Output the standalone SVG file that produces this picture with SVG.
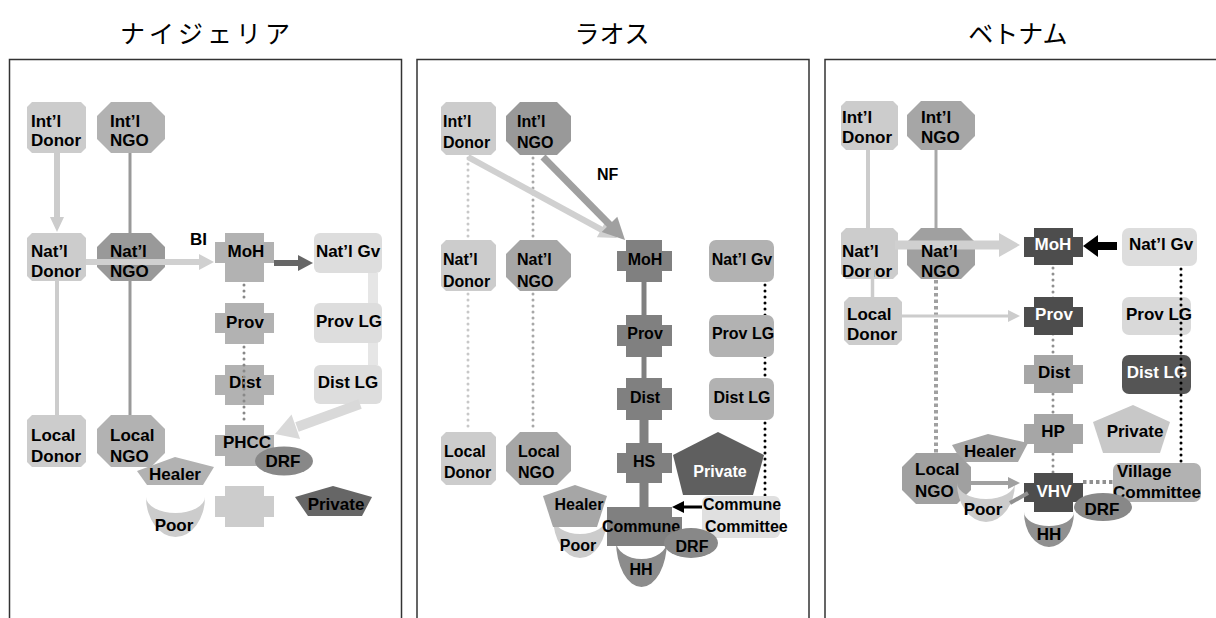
<svg xmlns="http://www.w3.org/2000/svg" width="1216" height="618" viewBox="0 0 1216 618">
<style>
text { font-family: "Liberation Sans", Arial, sans-serif; font-weight: bold; font-size: 17px; fill: #000; }
.p2 text { font-size: 16px; }
.c { text-anchor: middle; }
.w { fill: #fff; }
.title { font-family: "Noto Sans CJK JP", "Noto Sans CJK SC", sans-serif; font-weight: normal; font-size: 25px; text-anchor: middle; }
.frame { fill: #fff; stroke: #333; stroke-width: 1.5; }
.dot { fill: none; stroke-linecap: round; stroke-dasharray: 0 6; stroke-width: 3; }
.sq { fill: none; stroke-dasharray: 3.5 3; stroke-width: 4; }
.ln { fill: none; }
</style>
<rect width="1216" height="618" fill="#fff"/>
<g id="frames">
  <rect class="frame" x="9.5" y="59.5" width="392" height="600"/>
  <rect class="frame" x="417" y="59.5" width="392" height="600"/>
  <rect class="frame" x="825" y="59.5" width="420" height="600"/>
</g>
<g id="titles">
  <text class="title" x="207" y="43" style="letter-spacing:4px">ナイジェリア</text>
  <text class="title" x="612" y="43">ラオス</text>
  <text class="title" x="1018" y="43">ベトナム</text>
</g>

<g id="connectors-back">
  <!-- Nigeria -->
  <line class="ln" x1="57" y1="153" x2="57" y2="219" stroke="#cccccc" stroke-width="6"/>
  <polygon points="50,217 64,217 57,232" fill="#cccccc"/>
  <line class="ln" x1="130" y1="153" x2="130" y2="233" stroke="#999" stroke-width="3"/>
  <line class="ln" x1="57" y1="281" x2="57" y2="415" stroke="#cccccc" stroke-width="4"/>
  <line class="ln" x1="130" y1="281" x2="130" y2="415" stroke="#999" stroke-width="3"/>
  <line class="ln" x1="373" y1="273" x2="373" y2="365" stroke="#e6e6e6" stroke-width="10"/>
  <line class="dot" x1="244" y1="285" x2="244" y2="303" stroke="#888"/>
  <line class="ln" x1="274" y1="263" x2="299" y2="263" stroke="#666" stroke-width="6"/>
  <polygon points="298,255 298,271 313,263" fill="#666"/>
  <!-- Laos -->
  <line class="dot" x1="468" y1="158" x2="468" y2="240" stroke="#c8c8c8"/>
  <line class="dot" x1="468" y1="294" x2="468" y2="432" stroke="#c8c8c8"/>
  <line class="dot" x1="533" y1="158" x2="533" y2="240" stroke="#a8a8a8"/>
  <line class="dot" x1="533" y1="294" x2="533" y2="432" stroke="#a8a8a8"/>
  <line class="ln" x1="644" y1="282" x2="644" y2="315" stroke="#808080" stroke-width="5"/>
  <line class="ln" x1="644" y1="357" x2="644" y2="378" stroke="#808080" stroke-width="5"/>
  <line class="ln" x1="644" y1="420" x2="644" y2="443" stroke="#808080" stroke-width="9"/>
  <line class="ln" x1="644" y1="483" x2="644" y2="507" stroke="#808080" stroke-width="9"/>
  <line class="dot" x1="765" y1="285" x2="765" y2="496" stroke="#000"/>
  <line class="ln" x1="468" y1="157" x2="602" y2="230" stroke="#d0d0d0" stroke-width="6"/>
  <polygon points="617,238 596.9,237.3 605.5,221.5" fill="#d0d0d0"/>
  <line class="ln" x1="543" y1="157" x2="611" y2="226" stroke="#a0a0a0" stroke-width="7"/>
  <polygon points="625,240 601.7,232.1 617.3,216.7" fill="#a0a0a0"/>
  <line class="ln" x1="702" y1="507" x2="683" y2="507" stroke="#000" stroke-width="3"/>
  <polygon points="684,501 684,513 672,507" fill="#000"/>
  <!-- Vietnam -->
  <line class="ln" x1="868" y1="150" x2="868" y2="228" stroke="#cccccc" stroke-width="4"/>
  <line class="ln" x1="936" y1="150" x2="936" y2="228" stroke="#a8a8a8" stroke-width="3"/>
  <line class="sq" x1="936" y1="280" x2="936" y2="453" stroke="#a0a0a0"/>
  <line class="dot" x1="1053" y1="268" x2="1053" y2="473" stroke="#909090"/>
  <line class="sq" x1="1083" y1="482" x2="1113" y2="482" stroke="#909090"/>
  <line class="ln" x1="902" y1="316" x2="1009" y2="316" stroke="#cccccc" stroke-width="3"/>
  <polygon points="1008,310 1008,322 1020,316" fill="#cccccc"/>
  <line class="ln" x1="1117" y1="246" x2="1097" y2="246" stroke="#000" stroke-width="8"/>
  <polygon points="1098,235 1098,257 1083,246" fill="#000"/>
</g>

<g id="nodes">
  <!-- Nigeria -->
  <g id="ng-intl-donor"><path d="M32,102H81L86,107V148L81,153H32L27,148V107Z" fill="#cccccc"/><text x="31" y="127">Int’l</text><text x="31" y="146">Donor</text></g>
  <g id="ng-intl-ngo"><path d="M111,102H151L165,116V139L151,153H111L97,139V116Z" fill="#b2b2b2"/><text x="110" y="127">Int’l</text><text x="110" y="146">NGO</text></g>
  <g id="ng-natl-donor"><path d="M32,233H81L86,238V276L81,281H32L27,276V238Z" fill="#cccccc"/><text x="31" y="257">Nat’l</text><text x="31" y="277">Donor</text></g>
  <g id="ng-natl-ngo"><path d="M111,233H151L165,247V267L151,281H111L97,267V247Z" fill="#999999"/><text x="110" y="257">Nat’l</text><text x="110" y="277">NGO</text></g>
  <g id="ng-local-donor"><path d="M32,415H81L86,420V462L81,467H32L27,462V420Z" fill="#cccccc"/><text x="31" y="441">Local</text><text x="31" y="462">Donor</text></g>
  <g id="ng-local-ngo"><path d="M111,415H151L165,429V453L151,467H111L97,453V429Z" fill="#b2b2b2"/><text x="110" y="441">Local</text><text x="110" y="462">NGO</text></g>
  <g id="ng-moh"><path d="M225,233H264V242H274V263H264V282H225V263H215V242H225Z" fill="#b2b2b2"/><text class="c" x="246" y="257">MoH</text></g>
  <g id="ng-prov"><path d="M225,303H264V313H274V333H264V344H225V333H215V313H225Z" fill="#b2b2b2"/><text class="c" x="245" y="328">Prov</text></g>
  <g id="ng-dist"><path d="M225,365H264V375H274V395H264V405H225V395H215V375H225Z" fill="#b2b2b2"/><text class="c" x="245" y="388">Dist</text></g>
  <g id="ng-phcc"><path d="M225,425H264V435H274V456H264V466H225V456H215V435H225Z" fill="#b2b2b2"/><text class="c" x="247" y="448">PHCC</text></g>
  <g id="ng-empty"><path d="M225,486H264V496H274V517H264V527H225V517H215V496H225Z" fill="#cccccc"/></g>
  <g id="ng-natl-gv"><rect x="314" y="233" width="68" height="40" rx="6" fill="#dddddd"/><text class="c" x="348" y="257">Nat’l Gv</text></g>
  <g id="ng-prov-lg"><rect x="314" y="303" width="68" height="40" rx="6" fill="#dddddd"/><text class="c" x="349" y="327">Prov LG</text></g>
  <g id="ng-dist-lg"><rect x="314" y="365" width="68" height="39" rx="6" fill="#dddddd"/><text class="c" x="348" y="388">Dist LG</text></g>
  <g id="ng-drf"><ellipse cx="284" cy="461" rx="29" ry="14.5" fill="#888888"/><text class="c" x="283" y="467">DRF</text></g>
  <g id="ng-healer"><polygon points="175,457 214,467 203,485 147,485 137,471" fill="#b2b2b2"/><text class="c" x="175" y="480">Healer</text></g>
  <g id="ng-poor"><path d="M146,497A29.5,40 0 0 0 205,497A29.5,16 0 0 1 146,497Z" fill="#cccccc"/><text class="c" x="174" y="531">Poor</text></g>
  <g id="ng-private"><polygon points="333,486 372,497 362,516 308,516 295,497" fill="#666666"/><text class="c" x="336" y="510">Private</text></g>

  <!-- Laos -->
  <g class="p2">
  <g id="la-intl-donor"><path d="M446,102H491L496,107V150L491,155H446L441,150V107Z" fill="#cccccc"/><text x="443" y="127">Int’l</text><text x="443" y="148">Donor</text></g>
  <g id="la-intl-ngo"><path d="M520,102H557L571,116V141L557,155H520L506,141V116Z" fill="#999999"/><text x="517" y="127">Int’l</text><text x="517" y="148">NGO</text></g>
  <g id="la-natl-donor"><path d="M446,240H491L496,245V286L491,291H446L441,286V245Z" fill="#cccccc"/><text x="443" y="265">Nat’l</text><text x="443" y="287">Donor</text></g>
  <g id="la-natl-ngo"><path d="M520,240H557L571,254V277L557,291H520L506,277V254Z" fill="#a6a6a6"/><text x="517" y="265">Nat’l</text><text x="517" y="287">NGO</text></g>
  <g id="la-local-donor"><path d="M446,432H491L496,437V480L491,485H446L441,480V437Z" fill="#cccccc"/><text x="444" y="457">Local</text><text x="444" y="478">Donor</text></g>
  <g id="la-local-ngo"><path d="M520,432H557L571,446V471L557,485H520L506,471V446Z" fill="#a6a6a6"/><text x="518" y="457">Local</text><text x="518" y="478">NGO</text></g>
  <g id="la-moh"><path d="M626,240H662V251H672V271H662V282H626V271H617V251H626Z" fill="#808080"/><text class="c" x="645" y="265">MoH</text></g>
  <g id="la-prov"><path d="M626,315H662V325H672V346H662V357H626V346H617V325H626Z" fill="#808080"/><text class="c" x="645" y="339">Prov</text></g>
  <g id="la-dist"><path d="M626,378H662V388H672V410H662V420H626V410H617V388H626Z" fill="#808080"/><text class="c" x="645" y="403">Dist</text></g>
  <g id="la-hs"><path d="M626,443H662V453H672V473H662V483H626V473H617V453H626Z" fill="#808080"/><text class="c" x="644" y="467">HS</text></g>
  <g id="la-natl-gv"><rect x="709" y="240" width="65" height="42" rx="7" fill="#b2b2b2"/><text class="c" x="742" y="265">Nat’l Gv</text></g>
  <g id="la-prov-lg"><rect x="709" y="315" width="65" height="42" rx="7" fill="#b2b2b2"/><text class="c" x="743" y="339">Prov LG</text></g>
  <g id="la-dist-lg"><rect x="709" y="378" width="65" height="42" rx="7" fill="#b2b2b2"/><text class="c" x="742" y="403">Dist LG</text></g>
  <g id="la-private"><polygon points="718,432 764,455 753,495 683,495 673,455" fill="#5f5f5f"/><text class="c w" x="720" y="477">Private</text></g>
  <g id="la-commune-committee"><rect x="702" y="496" width="78" height="42" rx="6" fill="#e0e0e0"/><text x="703" y="510">Commune</text><text x="705" y="532">Committee</text></g>
  <g id="la-poor"><path d="M553,517A27,41 0 0 0 607,517A27,17 0 0 1 553,517Z" fill="#cccccc"/><text class="c" x="578" y="551">Poor</text></g>
  <g id="la-healer"><polygon points="575,485 607,496 597,527 553,527 543,496" fill="#a6a6a6"/><text class="c" x="579" y="510">Healer</text></g>
  <g id="la-hh"><path d="M616,541A25.5,46 0 0 0 667,541A25.5,18 0 0 1 616,541Z" fill="#8c8c8c"/><text class="c" x="641" y="575">HH</text></g>
  <g id="la-commune"><path d="M607,507H672V517H682V538H672V546H607Z" fill="#808080"/><text class="c" x="641" y="532">Commune</text></g>
  <g id="la-drf"><ellipse cx="691" cy="543" rx="27" ry="15" fill="#888888"/><text class="c" x="692" y="552">DRF</text></g>
  </g>

  <!-- Vietnam -->
  <g id="vn-intl-donor"><path d="M846,101H893L898,106V145L893,150H846L841,145V106Z" fill="#cccccc"/><text x="842" y="123">Int’l</text><text x="842" y="143">Donor</text></g>
  <g id="vn-intl-ngo"><path d="M921,101H961L975,115V136L961,150H921L907,136V115Z" fill="#a6a6a6"/><text x="921" y="123">Int’l</text><text x="921" y="143">NGO</text></g>
  <g id="vn-natl-donor"><path d="M846,228H893L898,233V274L893,279H846L841,274V233Z" fill="#cccccc"/></g>
  <g id="vn-natl-ngo"><path d="M921,228H961L975,242V265L961,279H921L907,265V242Z" fill="#a0a0a0"/></g>
  <g id="vn-local-donor"><path d="M849,297H897L902,302V340L897,345H849L844,340V302Z" fill="#cccccc"/><text x="847" y="320">Local</text><text x="847" y="340">Donor</text></g>
  <g id="vn-moh"><path d="M1034,228H1073V237H1083V257H1073V265H1034V257H1024V237H1034Z" fill="#4d4d4d"/><text class="c w" x="1053" y="250">MoH</text></g>
  <g id="vn-prov"><path d="M1034,297H1073V307H1083V327H1073V335H1034V327H1024V307H1034Z" fill="#4d4d4d"/><text class="c w" x="1054" y="320">Prov</text></g>
  <g id="vn-dist"><path d="M1034,355H1073V365H1083V384H1073V393H1034V384H1024V365H1034Z" fill="#a6a6a6"/><text class="c" x="1054" y="378">Dist</text></g>
  <g id="vn-hp"><path d="M1034,414H1073V424H1083V444H1073V453H1034V444H1024V424H1034Z" fill="#a6a6a6"/><text class="c" x="1053" y="437">HP</text></g>
  <g id="vn-natl-gv"><rect x="1122" y="228" width="75" height="38" rx="7" fill="#dddddd"/><text class="c" x="1161" y="250">Nat’l Gv</text></g>
  <g id="vn-prov-lg"><rect x="1122" y="297" width="69" height="38" rx="7" fill="#d9d9d9"/><text class="c" x="1159" y="320">Prov LG</text></g>
  <g id="vn-dist-lg"><rect x="1122" y="355" width="69" height="39" rx="7" fill="#555555"/><text class="c w" x="1157" y="378">Dist LG</text></g>
  <g id="vn-private"><polygon points="1133,405 1170,422 1160,453 1103,453 1093,422" fill="#c8c8c8"/><text class="c" x="1135" y="437">Private</text></g>
  <g id="vn-healer"><polygon points="988,434 1028,443 1018,462 962,462 952,445" fill="#a6a6a6"/><text class="c" x="990" y="457">Healer</text></g>
  <g id="vn-local-ngo"><path d="M916,453H957L971,467V490L957,504H916L902,490V467Z" fill="#a0a0a0"/><text x="915" y="475">Local</text><text x="915" y="497">NGO</text></g>
  <g id="vn-poor"><path d="M957,483A29,39 0 0 0 1015,483A29,16 0 0 1 957,483Z" fill="#cccccc"/><text class="c" x="983" y="515">Poor</text></g>
  <g id="vn-hh"><path d="M1024,512A25,35 0 0 0 1074,512A25,14 0 0 1 1024,512Z" fill="#909090"/><text class="c" x="1049" y="540">HH</text></g>
  <g id="vn-vhv"><path d="M1034,473H1073V483H1083V502H1073V512H1034V502H1024V483H1034Z" fill="#4d4d4d"/><text class="c w" x="1054" y="497">VHV</text></g>
  <g id="vn-village-committee"><rect x="1113" y="463" width="88" height="39" rx="7" fill="#b2b2b2"/><text x="1117" y="477">Village</text><text x="1113" y="498">Committee</text></g>
  <g id="vn-drf"><ellipse cx="1103" cy="507" rx="29" ry="14" fill="#888888"/><text class="c" x="1102" y="515">DRF</text></g>
</g>

<g id="connectors-mid">
  <line class="ln" x1="86" y1="262" x2="200" y2="262" stroke="#d0d0d0" stroke-width="6"/>
  <polygon points="199,254 199,270 214,262" fill="#d0d0d0"/>
  <text x="190" y="245">BI</text>
  <line class="ln" x1="895" y1="245" x2="1000" y2="245" stroke="#d0d0d0" stroke-width="9"/>
  <polygon points="999,233 999,257 1020,245" fill="#d0d0d0"/>
</g>

<g id="node-labels">
  <g id="vn-natl-donor-label"><text x="842" y="257">Nat’l</text><text x="842" y="277">Donor</text></g>
  <g id="vn-natl-ngo-label"><text x="921" y="257">Nat’l</text><text x="921" y="277">NGO</text></g>
</g>

<g id="connectors-front">
  <line class="dot" x1="244" y1="347" x2="244" y2="425" stroke="#888"/>
  <line class="ln" x1="360" y1="404" x2="297" y2="427" stroke="#d9d9d9" stroke-width="10"/>
  <polygon points="275,434 291.5,414.4 300.1,439" fill="#d9d9d9"/>
  <text class="p2" x="597" y="180" style="font-size:16px">NF</text>
  <line class="ln" x1="872.5" y1="260" x2="872.5" y2="297" stroke="#cccccc" stroke-width="3.5"/>
  <line class="dot" x1="1181" y1="269" x2="1181" y2="463" stroke="#000"/>
  <line class="ln" x1="971" y1="483" x2="1009" y2="483" stroke="#a0a0a0" stroke-width="4"/>
  <polygon points="1008,477 1008,489 1020,483" fill="#a0a0a0"/>
  <line class="ln" x1="1010" y1="503" x2="1028" y2="493" stroke="#909090" stroke-width="4"/>
</g>
</svg>
